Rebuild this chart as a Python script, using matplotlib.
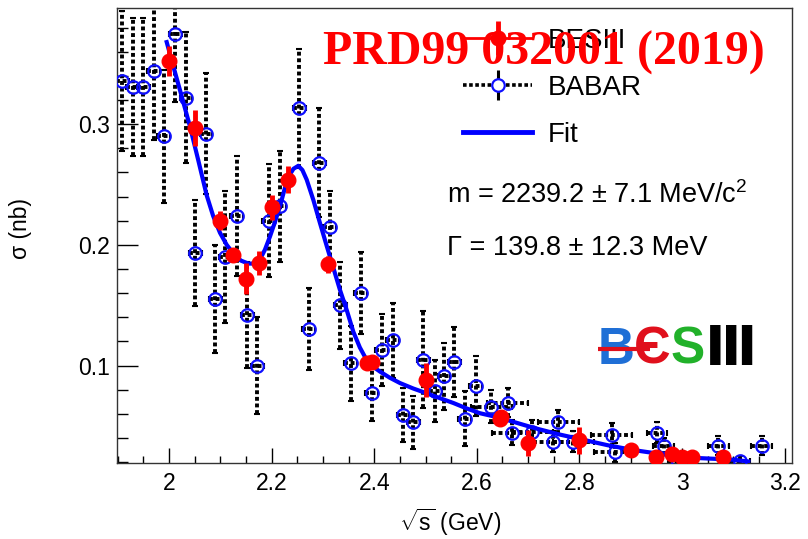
import matplotlib
matplotlib.use("Agg")
import matplotlib.pyplot as plt
from matplotlib.lines import Line2D
from matplotlib.ticker import MultipleLocator

# ==================== style ====================
plt.rcParams['font.family'] = ['Liberation Sans', 'DejaVu Sans']
plt.rcParams['mathtext.fontset'] = 'custom'
plt.rcParams['mathtext.rm'] = 'Liberation Sans'
plt.rcParams['mathtext.it'] = 'Liberation Sans:italic'

# ==================== data ====================
# BESIII cross section (nb) at the scan energies (GeV)
besiii_e = [2.0, 2.05, 2.1, 2.125, 2.15, 2.175, 2.2, 2.2324, 2.3094, 2.3864, 2.396,
            2.5, 2.6444, 2.6464, 2.7, 2.8, 2.9, 2.95, 2.981, 3.0, 3.02, 3.08]
besiii_xs = [0.352, 0.297, 0.220, 0.192, 0.172, 0.185, 0.231, 0.254, 0.184, 0.102, 0.103,
             0.088, 0.056, 0.057, 0.036, 0.038, 0.030, 0.0246, 0.0268, 0.0246, 0.024, 0.0246]
besiii_err = [0.0125, 0.015, 0.008, 0.005, 0.013, 0.010, 0.010, 0.011, 0.007, 0.004, 0.004,
              0.014, 0.004, 0.004, 0.011, 0.011, 0.003, 0.003, 0.003, 0.003, 0.003, 0.003]

# BABAR ISR measurement
babar_e = [1.909, 1.929, 1.950, 1.970, 1.990, 2.012, 2.033, 2.051, 2.072, 2.090,
           2.109, 2.132, 2.153, 2.172, 2.194, 2.216, 2.254, 2.272, 2.293, 2.313,
           2.334, 2.354, 2.374, 2.395, 2.415, 2.436, 2.456, 2.476, 2.496, 2.519,
           2.536, 2.556, 2.576, 2.598, 2.628, 2.660, 2.669, 2.708, 2.749, 2.759,
           2.788, 2.863, 2.869, 2.951, 2.964, 2.993, 3.071, 3.113, 3.155]
babar_xs = [0.336, 0.331, 0.331, 0.344, 0.290, 0.375, 0.322, 0.193, 0.292, 0.155,
            0.190, 0.224, 0.142, 0.100, 0.220, 0.232, 0.313, 0.130, 0.268, 0.215,
            0.150, 0.102, 0.160, 0.077, 0.113, 0.121, 0.059, 0.053, 0.105, 0.079,
            0.091, 0.103, 0.056, 0.083, 0.066, 0.069, 0.0445, 0.045, 0.037, 0.053,
            0.037, 0.0426, 0.028, 0.0445, 0.033, 0.0205, 0.0335, 0.021, 0.0335]
babar_err = [0.058, 0.057, 0.057, 0.057, 0.055, 0.057, 0.054, 0.044, 0.050, 0.045,
             0.055, 0.050, 0.044, 0.040, 0.047, 0.046, 0.049, 0.034, 0.045, 0.030,
             0.036, 0.031, 0.034, 0.023, 0.030, 0.031, 0.022, 0.022, 0.040, 0.026,
             0.028, 0.029, 0.023, 0.025, 0.014, 0.012, 0.010, 0.010, 0.009, 0.010,
             0.009, 0.010, 0.008, 0.009, 0.007, 0.005, 0.008, 0.004, 0.008]
babar_ebin = [0.0125] * 34 + [0.04] * 9 + [0.02] * 6

# fitted line shape
fit_e = [1.9955, 2.0084, 2.0248, 2.0409, 2.0571, 2.0735, 2.0860, 2.0994, 2.1125, 2.1253,
         2.1400, 2.1546, 2.1660, 2.1774, 2.1870, 2.1969, 2.2065, 2.2164, 2.2245, 2.2326,
         2.2425, 2.2520, 2.2600, 2.2684, 2.2815, 2.2943, 2.3075, 2.3203, 2.3330, 2.3464,
         2.3593, 2.3720, 2.3854, 2.3980, 2.4113, 2.4300, 2.4503, 2.4760, 2.5023, 2.5280,
         2.5542, 2.5800, 2.6062, 2.6320, 2.6583, 2.7101, 2.7600, 2.8076, 2.8550, 2.9051,
         2.9702, 3.0351, 3.1000, 3.1292]
fit_xs = [0.368, 0.348, 0.323, 0.298, 0.270, 0.241, 0.224, 0.210, 0.200, 0.193,
          0.187, 0.1845, 0.1845, 0.188, 0.196, 0.207, 0.219, 0.232, 0.245, 0.256,
          0.263, 0.2655, 0.262, 0.254, 0.237, 0.218, 0.199, 0.181, 0.163, 0.146,
          0.128, 0.115, 0.1045, 0.099, 0.095, 0.090, 0.0855, 0.081, 0.077, 0.073,
          0.069, 0.0645, 0.0605, 0.058, 0.055, 0.0485, 0.043, 0.0385, 0.034, 0.030,
          0.026, 0.0233, 0.022, 0.0205]

mass_text = "m = 2239.2 ± 7.1 MeV/c$^{\\mathrm{2}}$"
width_text = "Γ = 139.8 ± 12.3 MeV"
ref_text = "PRD99 032001 (2019)"

# ==================== figure ====================
fig = plt.figure(figsize=(8.08, 5.39), dpi=100)
ax = fig.add_axes([0.1444, 0.1404, 0.8362, 0.8442])

# BABAR: dotted error bars + open blue circles
eb = ax.errorbar(babar_e, babar_xs, yerr=babar_err, xerr=babar_ebin, fmt='none',
                 ecolor='black', elinewidth=2.8, capsize=2, capthick=1.5, zorder=2)
for lc in eb[2]:
    lc.set_linestyle((0, (1.0, 0.7)))
ax.plot(babar_e, babar_xs, 'o', ms=9, mfc='none', mec='#1010ff', mew=1.6, zorder=3)

# fit
ax.plot(fit_e, fit_xs, color='#0000ff', lw=3, zorder=4)

# BESIII
ax.errorbar(besiii_e, besiii_xs, yerr=besiii_err, fmt='o', color='#ff0000', ms=10.5,
            elinewidth=3.5, capsize=0, zorder=5)

ax.set_xlim(1.898, 3.215)
ax.set_ylim(0.019, 0.396)
ax.xaxis.set_major_locator(MultipleLocator(0.2))
ax.xaxis.set_minor_locator(MultipleLocator(0.05))
ax.yaxis.set_major_locator(MultipleLocator(0.1))
ax.yaxis.set_minor_locator(MultipleLocator(0.02))
ax.xaxis.set_major_formatter(plt.FuncFormatter(lambda v, p: f"{v:g}"))
ax.yaxis.set_major_formatter(plt.FuncFormatter(lambda v, p: f"{v:g}"))
ax.tick_params(axis='x', which='major', direction='in', length=10.8, width=1, pad=6.3,
               labelsize=16.5, top=False)
ax.tick_params(axis='x', which='minor', direction='in', length=5.4, width=1, top=False)
ax.tick_params(axis='y', which='major', direction='in', length=15, width=1, pad=4.8,
               labelsize=16.5, right=False)
ax.tick_params(axis='y', which='minor', direction='in', length=8, width=1, right=False)
for sp in ax.spines.values():
    sp.set_color('#333333')
    sp.set_linewidth(1.0)

ax.set_xlabel("$\\sqrt{\\mathrm{s}}$ (GeV)", fontsize=16.5)
ax.set_ylabel("σ (nb)", fontsize=16.5)
ax.xaxis.set_label_coords(0.4933, -0.095)
ax.yaxis.set_label_coords(-0.125, 0.516)

# ==================== legend ====================
h_besiii = (Line2D([], [], color='#ff0000', lw=2),
            Line2D([], [], ls='none', marker='|', ms=25, mew=3.5, color='#ff0000'),
            Line2D([], [], ls='none', marker='o', ms=10.5, color='#ff0000'))
h_babar = (Line2D([], [], color='black', lw=2.6, ls=(0, (1.0, 0.7))),
           Line2D([], [], ls='none', marker='|', ms=22, mew=2.2, color='black'),
           Line2D([], [], ls='none', marker='o', ms=9, mfc='white', mec='#1010ff', mew=1.6))
h_fit = Line2D([], [], color='#0000ff', lw=3.5)
ax.legend([h_besiii, h_babar, h_fit], ["BESIII", "BABAR", "Fit"], loc='upper left',
          bbox_to_anchor=(0.5126, 0.9567), frameon=False, fontsize=20, borderpad=0,
          borderaxespad=0, handlelength=2.5, handletextpad=0.55, labelspacing=0.75)

# fit result
ax.text(0.4889, 0.5897, mass_text, transform=ax.transAxes, fontsize=19.5, va='center')
ax.text(0.4889, 0.4732, width_text, transform=ax.transAxes, fontsize=19.5, va='center')

# BESIII logo
ax.plot([0.7124, 0.79], [0.252, 0.252], transform=ax.transAxes, color='#e0101c', lw=3,
        solid_capstyle='butt', zorder=6)
ax.text(0.7124, 0.249, "B", transform=ax.transAxes, color='#1f6fd6', fontsize=37,
        fontweight='bold', va='center', ha='left', zorder=5)
ax.text(0.7655, 0.249, "Є", transform=ax.transAxes, color='#e0101c', fontsize=37,
        fontweight='bold', va='center', ha='left', zorder=7)
ax.text(0.8200, 0.249, "S", transform=ax.transAxes, color='#22b12a', fontsize=37,
        fontweight='bold', va='center', ha='left', zorder=7)
ax.text(0.8710, 0.249, "Ⅲ", transform=ax.transAxes, color='black', fontsize=40,
        fontweight='bold', family=['DejaVu Sans'], va='center', ha='left', zorder=7)

# reference
fig.text(0.3998, 0.8794, ref_text, color='#ff0000', fontsize=34.5, fontweight='bold',
         family=['Liberation Serif'], va='baseline', ha='left', zorder=10)

fig.savefig("out.png", dpi=100)
